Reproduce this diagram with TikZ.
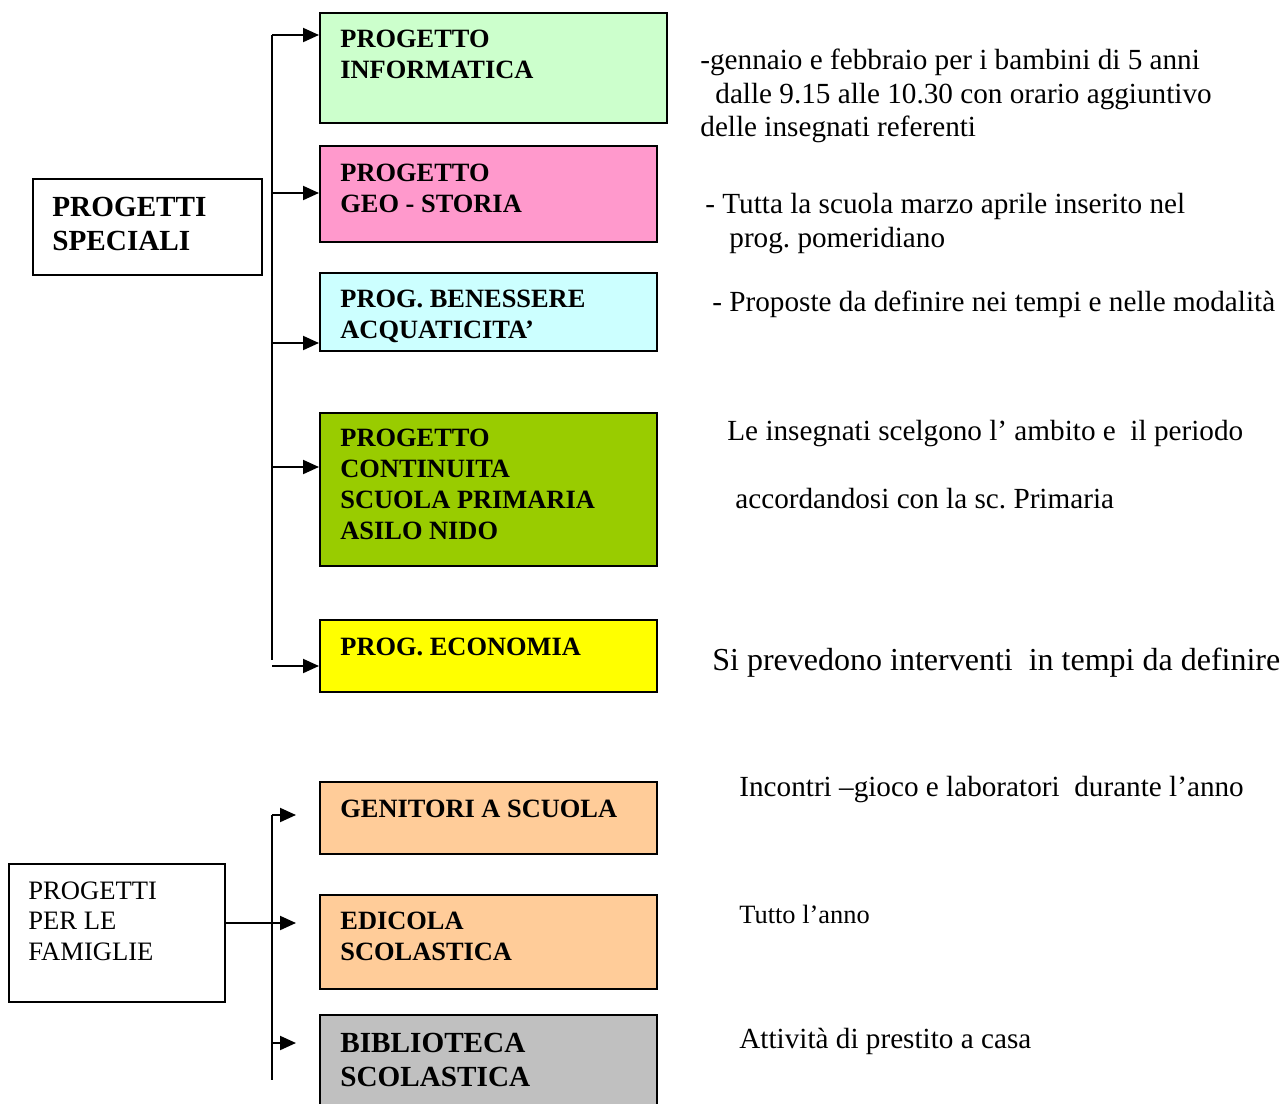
\documentclass[tikz,border=0pt]{standalone}
\usepackage{fontspec}
\setmainfont{Liberation Serif}
\usetikzlibrary{arrows.meta}
\frenchspacing
\definecolor{cinf}{HTML}{CCFFCC}
\definecolor{cgeo}{HTML}{FF99CC}
\definecolor{cben}{HTML}{CCFFFF}
\definecolor{ccon}{HTML}{99CC00}
\definecolor{ceco}{HTML}{FFFF00}
\definecolor{cfam}{HTML}{FFCC99}
\definecolor{cbib}{HTML}{C0C0C0}
\tikzset{
  pbox/.style={draw=black, line width=1pt, rectangle, anchor=north west, inner sep=0pt},
  lbox/.style={draw=black, line width=0.8pt, rectangle, anchor=north west, inner sep=0pt},
  btxt/.style={anchor=base west, inner sep=0pt, align=left, font=\fontsize{13.2}{15.5}\selectfont\bfseries},
  btxtb/.style={anchor=base west, inner sep=0pt, align=left, font=\fontsize{14.6}{17}\selectfont\bfseries},
  rtxt/.style={anchor=base west, inner sep=0pt, font=\fontsize{14.6}{17}\selectfont},
  conn/.style={line width=1pt},
  arr/.style={line width=1pt, -{Triangle[length=8pt,width=7pt]}}
}
\begin{document}
\begin{tikzpicture}[x=0.5pt,y=-0.5pt]
\frenchspacing
\useasboundingbox (0,0) rectangle (1282,1104);
% ---- left boxes (multi-line text nodes are placed by the baseline of their last line)
\node[lbox, minimum width=114.5pt, minimum height=48pt] (spec) at (32,178) {};
\node[btxtb] (spect) at (52,250) {PROGETTI\\SPECIALI};
\node[lbox, minimum width=108pt, minimum height=69pt] (fam) at (8,863) {};
\node[anchor=base west, inner sep=0pt, align=left, font=\fontsize{13.3}{15.25}\selectfont] (famt) at (28,960) {PROGETTI\\PER LE\\FAMIGLIE};
% ---- project boxes
\node[pbox, fill=cinf, minimum width=173.5pt, minimum height=55pt] (b1) at (319,12) {};
\node[btxt] (t1) at (340,78) {PROGETTO\\INFORMATICA};
\node[pbox, fill=cgeo, minimum width=168.5pt, minimum height=48pt] (b2) at (319,145) {};
\node[btxt] (t2) at (340,212) {PROGETTO\\GEO - STORIA};
\node[pbox, fill=cben, minimum width=168.5pt, minimum height=39pt] (b3) at (319,272) {};
\node[btxt] (t3) at (340,338) {PROG. BENESSERE\\ACQUATICITA’};
\node[pbox, fill=ccon, minimum width=168.5pt, minimum height=76.5pt] (b4) at (319,412) {};
\node[btxt] (t4) at (340,539) {PROGETTO\\CONTINUITA\\SCUOLA PRIMARIA\\ASILO NIDO};
\node[pbox, fill=ceco, minimum width=168.5pt, minimum height=36pt] (b5) at (319,619) {};
\node[btxt] (t5) at (340,655) {PROG. ECONOMIA};
\node[pbox, fill=cfam, minimum width=168.5pt, minimum height=36pt] (b6) at (319,781) {};
\node[btxt] (t6) at (340,817) {GENITORI A SCUOLA};
\node[pbox, fill=cfam, minimum width=168.5pt, minimum height=47pt] (b7) at (319,894) {};
\node[btxt] (t7) at (340,960) {EDICOLA\\SCOLASTICA};
\node[pbox, fill=cbib, minimum width=168.5pt, minimum height=56pt] (b8) at (319,1014) {};
\node[btxtb] (t8) at (340,1086) {BIBLIOTECA\\SCOLASTICA};
% ---- top bus
\coordinate (ta) at (272,35);
\coordinate (tb) at (272,193);
\coordinate (tc) at (272,343);
\coordinate (td) at (272,467);
\coordinate (te) at (272,660);
\coordinate (tf) at (272,666);
\draw[conn] (ta) -- (te);
\draw[arr] (ta) -- (ta -| b1.west);
\draw[arr] (tb) -- (tb -| b2.west);
\draw[arr] (tc) -- (tc -| b3.west);
\draw[arr] (td) -- (td -| b4.west);
\draw[arr] (tf) -- (tf -| b5.west);
% ---- bottom bus
\coordinate (ua) at (272,815);
\coordinate (ub) at (272,1080);
\coordinate (uc) at (272,1043);
\coordinate (pa) at (296,815);
\coordinate (pb) at (296,923);
\coordinate (pc) at (296,1043);
\draw[conn] (ua) -- (ub);
\draw[arr] (ua) -- (pa);
\draw[arr] (fam.east |- pb) -- (pb);
\draw[arr] (uc) -- (pc);
% ---- right texts
\node[rtxt] (r1a) at (700,69) {-gennaio e febbraio per i bambini di 5 anni};
\node[rtxt] (r1b) at (715,103) {dalle 9.15 alle 10.30 con orario aggiuntivo};
\node[rtxt] (r1c) at (700,136) {delle insegnati referenti};
\node[rtxt] (r2a) at (705,213) {- Tutta la scuola marzo aprile inserito nel};
\node[rtxt] (r2b) at (729,247) {prog. pomeridiano};
\node[rtxt] (r3) at (712,311) {- Proposte da definire nei tempi e nelle modalità};
\node[rtxt] (r4a) at (727,440) {Le insegnati scelgono l’ ambito e\ \ il periodo};
\node[rtxt] (r4b) at (735,508) {accordandosi con la sc. Primaria};
\node[rtxt, font=\fontsize{16}{18}\selectfont] (r5) at (712,670) {Si prevedono interventi\ \ in tempi da definire};
\node[rtxt] (r6) at (739,796) {Incontri –gioco e laboratori\ \ durante l’anno};
\node[rtxt, font=\fontsize{13.2}{15}\selectfont] (r7) at (739,923) {Tutto l’anno};
\node[rtxt] (r8) at (739,1048) {Attività di prestito a casa};
\end{tikzpicture}
\end{document}
